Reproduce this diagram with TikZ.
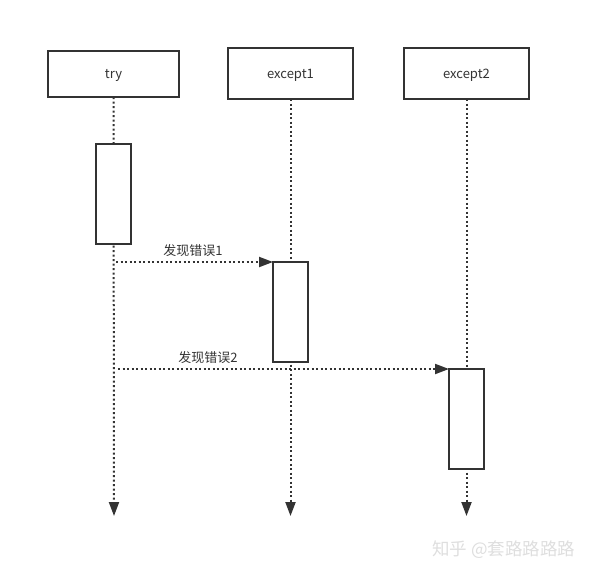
\documentclass[tikz,border=0pt]{standalone}
\usepackage{fontspec}
\setmainfont{Noto Sans CJK SC}
\usetikzlibrary{arrows.meta}
\definecolor{ink}{HTML}{333333}
\begin{document}
\begin{tikzpicture}[x=1pt,y=-1pt,
  head/.style={draw=ink,line width=1.8pt,fill=white,outer sep=0pt,font=\fontsize{13}{15}\selectfont,text=ink},
  act/.style={draw=ink,line width=1.8pt,fill=white,outer sep=0pt,inner sep=0pt},
  life/.style={draw=ink,line width=2pt,dash pattern=on 2pt off 2.5pt},
  msg/.style={life,-{Triangle[length=14pt,width=10pt]}},
  lbl/.style={font=\fontsize{13}{15}\selectfont,text=ink}]
\useasboundingbox (0,0) rectangle (591,574);
% heads
\node[head,minimum width=131pt,minimum height=46pt] (try) at (113.5,74) {};
\node[head,minimum width=125pt,minimum height=51pt] (ex1) at (290.5,73.5) {};
\node[head,minimum width=125pt,minimum height=51pt] (ex2) at (466.5,73.5) {};
\node[lbl] (t0) at (113.5,75.5) {try};
\node[lbl] (t1) at (290.5,75.5) {except1};
\node[lbl] (t2) at (466.5,75.5) {except2};
% bottom ends
\coordinate (e0) at (114,516);
\coordinate (e1) at (290.5,516);
\coordinate (e2) at (466.5,516);
% lifelines
\draw[msg] (try.south) -- (e0);
\draw[msg] (ex1.south) -- (e1);
\draw[msg] (ex2.south) -- (e2);
% activations
\node[act,minimum width=35pt,minimum height=100pt] (a0) at (113.5,194) {};
\node[act,minimum width=35pt,minimum height=100pt] (a1) at (290.5,312) {};
\node[act,minimum width=35pt,minimum height=100pt] (a2) at (466.5,419) {};
% messages
\coordinate (m1s) at (116,262);
\coordinate (m2s) at (118,369);
\draw[msg] (m1s) -- (a1.north west);
\draw[msg] (m2s) -- (a2.north west);
\node[lbl] (l1) at (193,250.5) {发现错误1};
\node[lbl] (l2) at (208,357.5) {发现错误2};
% watermark
\node[font=\fontsize{17.5}{19}\selectfont,text=black!13,anchor=west,inner sep=0pt] (wm) at (432,550) {知乎 @套路路路路};
\end{tikzpicture}
\end{document}
